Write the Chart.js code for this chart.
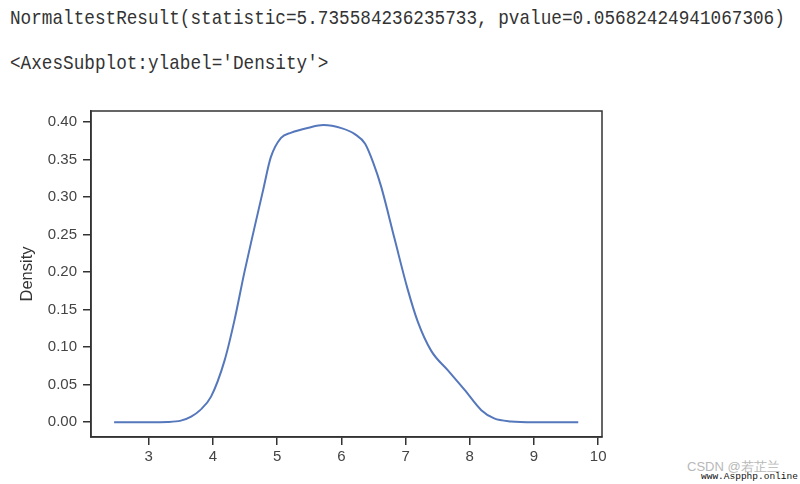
<!DOCTYPE html>
<html>
<head>
<meta charset="utf-8">
<script src="https://cdn.jsdelivr.net/npm/chart.js@4/dist/chart.umd.min.js"></script>
<style>
  body { margin: 0; width: 800px; height: 484px; background: #fff; position: relative; overflow: hidden; }
  .out { position: absolute; left: 10px; font-family: "Liberation Mono", "DejaVu Sans Mono", monospace; font-size: 17.7px; color: #333; white-space: pre; transform: scaleY(1.12); transform-origin: left top; }
  #wrap { position: absolute; left: 0; top: 96px; width: 640px; height: 388px; }
  .wm1 { position: absolute; left: 687px; top: 458px; font: 13px "Liberation Sans", Arial, sans-serif; color: #b8b8b8; }
  .wm2 { position: absolute; left: 701px; top: 471px; font: 9.5px "Liberation Mono", monospace; color: #111; }
</style>
</head>
<body>
<div class="out" style="top:7px">NormaltestResult(statistic=5.735584236235733, pvalue=0.05682424941067306)</div>
<div class="out" style="top:52px">&lt;AxesSubplot:ylabel='Density'&gt;</div>
<div id="wrap"><canvas id="kde"></canvas></div>
<div class="wm1">CSDN @若芷兰</div>
<div class="wm2">www.Aspphp.online</div>
<script>
// KDE curve
const xValues = [2.46, 3.0, 3.3, 3.5, 3.66, 3.8, 3.97, 4.18, 4.33, 4.49, 4.64, 4.78, 4.9, 5.06, 5.22, 5.49, 5.72,
                 6.0, 6.21, 6.37, 6.5, 6.62, 6.83, 7.03, 7.19, 7.4, 7.66, 7.92, 8.18, 8.38, 8.64, 9.0, 9.69];
const density = [0, 0, 0.0003, 0.002, 0.0074, 0.016, 0.034, 0.082, 0.134, 0.2, 0.257, 0.309, 0.353, 0.379, 0.386, 0.3925, 0.396,
                 0.392, 0.384, 0.371, 0.345, 0.314, 0.244, 0.178, 0.134, 0.095, 0.069, 0.043, 0.016, 0.005, 0.001, 0, 0];
const xTicks = [3, 4, 5, 6, 7, 8, 9, 10];
const yTicks = [0, 0.05, 0.1, 0.15, 0.2, 0.25, 0.3, 0.35, 0.4];

const frameColor = '#333';
const tickFont = { family: '"Liberation Sans", Arial, sans-serif', size: 15 };

// draws the full box round the plot like matplotlib does
const framePlugin = {
    id: 'frame',
    afterDraw(chart) {
        const { ctx, chartArea: a } = chart;
        ctx.save();
        ctx.strokeStyle = frameColor;
        ctx.lineWidth = 1.5;
        ctx.strokeRect(a.left, a.top, a.right - a.left, a.bottom - a.top);
        ctx.restore();
    }
};

new Chart(document.getElementById('kde'), {
    type: 'line',
    data: {
        datasets: [{
            data: xValues.map((x, i) => ({ x: x, y: density[i] })),
            borderColor: '#5577bb',
            borderWidth: 2,
            pointRadius: 0,
            fill: false,
            cubicInterpolationMode: 'monotone'
        }]
    },
    options: {
        responsive: true,
        maintainAspectRatio: false,
        animation: false,
        layout: { padding: { top: 10, right: 38, left: 0, bottom: 0 } },
        plugins: { legend: { display: false }, tooltip: { enabled: false } },
        scales: {
            x: {
                type: 'linear',
                min: 2.1,
                max: 10.06,
                afterBuildTicks: s => { s.ticks = xTicks.map(v => ({ value: v })); },
                afterFit: s => { s.height = 47; },
                grid: { drawOnChartArea: false, drawTicks: true, tickLength: 8, color: frameColor, lineWidth: 1.5 },
                border: { color: frameColor, width: 1.5 },
                ticks: { color: '#444', font: tickFont, padding: 3, maxRotation: 0 }
            },
            y: {
                min: -0.0198,
                max: 0.4148,
                afterBuildTicks: s => { s.ticks = yTicks.map(v => ({ value: v })); },
                afterFit: s => { s.width = 91; },
                grid: { drawOnChartArea: false, drawTicks: true, tickLength: 8, color: frameColor, lineWidth: 1.5 },
                border: { color: frameColor, width: 1.5 },
                ticks: { color: '#444', font: tickFont, padding: 6, callback: v => v.toFixed(2) },
                title: { display: true, text: 'Density', color: '#333', font: { family: tickFont.family, size: 16.5 }, padding: { top: 18, bottom: 4 } }
            }
        }
    },
    plugins: [framePlugin]
});
</script>
</body>
</html>
